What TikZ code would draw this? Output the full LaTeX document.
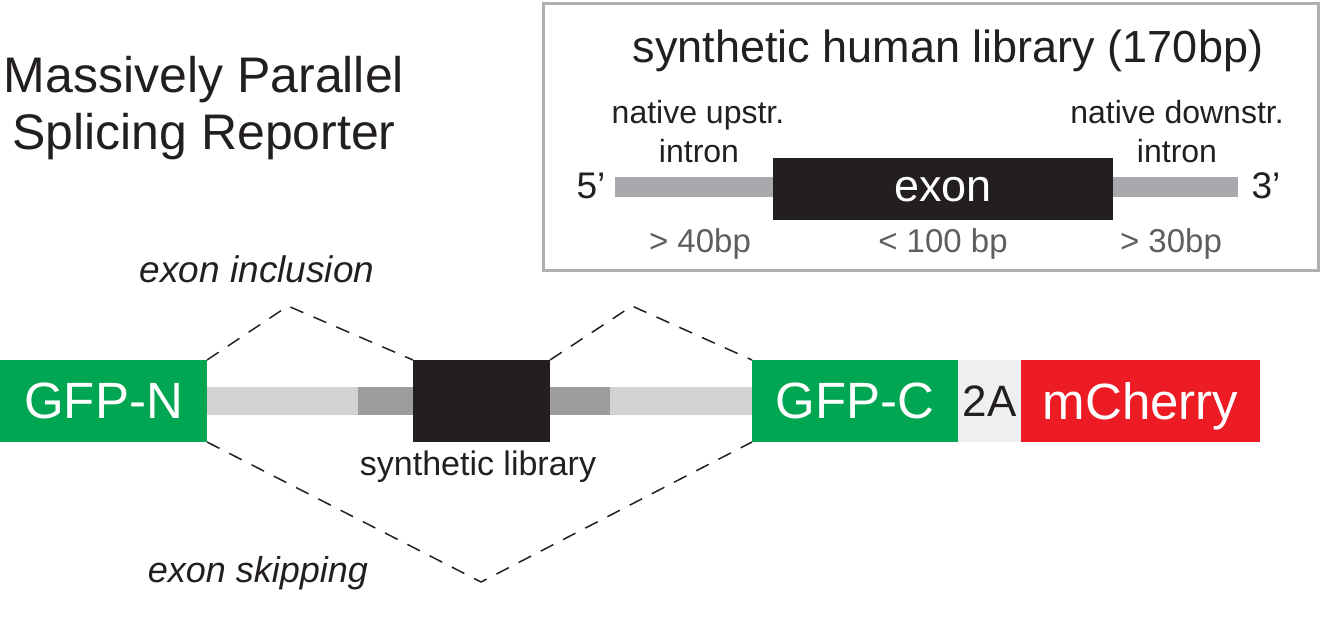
\documentclass[tikz,border=0pt]{standalone}
\usepackage{fontspec}
\setmainfont{Liberation Sans}
\definecolor{gfpgreen}{HTML}{00A651}
\definecolor{cherryred}{HTML}{ED1C24}
\definecolor{exonblack}{HTML}{231F20}
\definecolor{paleA}{HTML}{F0F0F0}
\definecolor{intronlight}{HTML}{D1D3D4}
\definecolor{introndark}{HTML}{9D9D9D}
\definecolor{bargray}{HTML}{A7A9AC}
\definecolor{bpgray}{HTML}{5E5E5E}
\definecolor{framegray}{HTML}{B0B0B0}

\begin{document}
\begin{tikzpicture}
[x=0.5pt,y=-0.5pt%
,box/.style={rectangle,%
	inner sep=0pt,%
	outer sep=0pt,%
	minimum height=41pt,%
	text depth=0pt,%
	text=white,%
	font=\fontsize{25.5}{30}\selectfont}%
,strand/.style={rectangle,inner sep=0pt,outer sep=0pt,minimum height=14pt}%
,lbl/.style={inner sep=0pt,anchor=base,text=exonblack,font=\fontsize{16}{19}\selectfont}%
,bp/.style={lbl,text=bpgray,font=\fontsize{16.5}{19}\selectfont}%
,prime/.style={lbl,font=\fontsize{18.5}{22}\selectfont}%
,splice/.style={draw=exonblack,line width=0.75pt,dash pattern=on 7pt off 5.5pt}]
\useasboundingbox (0,0) rectangle (1324,636);

% title
\node[lbl,font=\fontsize{25}{29}\selectfont] (title1) at (204,93) {Massively Parallel};
\node[lbl,font=\fontsize{25}{29}\selectfont] (title2) at (204,150) {Splicing Reporter};

% library panel
\node[draw=framegray,line width=1.5pt,minimum width=387.5pt,minimum height=133.5pt,inner sep=0pt] (panel) at (930.5,137.5) {};
\node[lbl,font=\fontsize{22.5}{27}\selectfont] (head) at (948,63) {synthetic human library (170bp)};
\node[strand,fill=bargray,minimum width=311.5pt,minimum height=10pt] (intr) at (926.5,187) {};
\node[box,fill=exonblack,minimum width=170pt,minimum height=31pt,font=\fontsize{22.5}{26}\selectfont] (ex) at (943,189) {exon};
\node[lbl] (up1) at (698,124) {native upstr.};
\node[lbl] (up2) at (699,163) {intron};
\node[lbl] (dn1) at (1177,124) {native downstr.};
\node[lbl] (dn2) at (1177,163) {intron};
\node[prime] (five) at (591,199) {5’};
\node[prime] (three) at (1266,199) {3’};
\node[bp] (bpup) at (700,253) {> 40bp};
\node[bp] (bpex) at (943,253) {< 100 bp};
\node[bp] (bpdn) at (1171,253) {> 30bp};

% reporter
\node[strand,fill=intronlight,minimum width=272.5pt] (lintr) at (479.5,401) {};
\node[strand,fill=introndark,minimum width=27.5pt] (dl) at (385.5,401) {};
\node[strand,fill=introndark,minimum width=30pt] (dr) at (580,401) {};
\node[box,fill=gfpgreen,minimum width=103.5pt] (gfpn) at (103.5,401) {GFP-N};
\node[box,fill=exonblack,minimum width=68.5pt] (lib) at (481.5,401) {};
\node[box,fill=gfpgreen,minimum width=103pt] (gfpc) at (855,401) {GFP-C};
\node[box,fill=paleA,text=exonblack,minimum width=31.5pt,font=\fontsize{22}{26}\selectfont] (twoA) at (989.5,401) {2A};
\node[box,fill=cherryred,minimum width=119.5pt] (mch) at (1140.5,401) {mCherry};
\node[lbl,font=\fontsize{17}{20}\selectfont] (libtxt) at (478,475) {synthetic library};

% splicing paths
\coordinate (incA) at (288,306);
\coordinate (incB) at (632,306);
\coordinate (skip) at (481,582);
\draw[splice] (gfpn.north east) -- (incA) -- (lib.north west);
\draw[splice] (lib.north east) -- (incB) -- (gfpc.north west);
\draw[splice] (gfpn.south east) -- (skip) -- (gfpc.south west);
\node[lbl,font=\itshape\fontsize{18.5}{22}\selectfont] (inc) at (257,283) {exon inclusion};
\node[lbl,font=\itshape\fontsize{18}{22}\selectfont] (skp) at (258,582) {exon skipping};
\end{tikzpicture}
\end{document}
